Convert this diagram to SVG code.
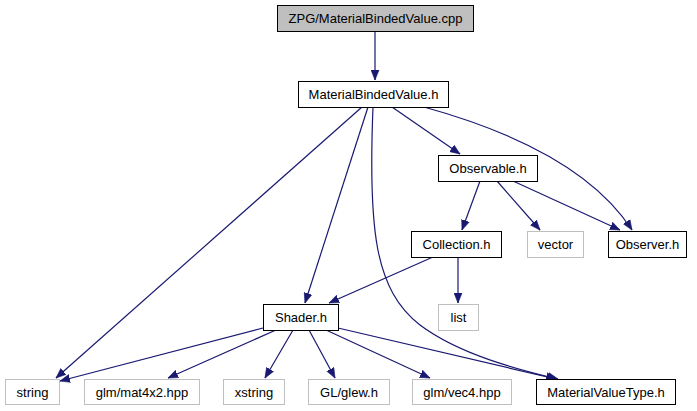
<svg xmlns="http://www.w3.org/2000/svg" width="697" height="411" viewBox="0 0 697 411">
<defs>
<style>
.n rect{fill:#fff;stroke:#000;stroke-width:1}
.g rect{fill:#fff;stroke:#bfbfbf;stroke-width:1}
.r rect{fill:#bfbfbf;stroke:#000;stroke-width:1}
text{font-family:"Liberation Sans",Arial,sans-serif;font-size:13px;fill:#000;text-anchor:middle}
#edges path{fill:none;stroke:#191970;stroke-width:1.2;marker-end:url(#ah)}
</style>
<marker id="ah" markerUnits="userSpaceOnUse" markerWidth="11" markerHeight="9" refX="10" refY="4.5" orient="auto">
<path d="M0,0.5 L10,4.5 L0,8.5 z" fill="#191970" stroke="#191970" stroke-width="0.6"/>
</marker>
</defs>
<rect width="697" height="411" fill="#fff"/>
<g id="edges">
<path d="M375,32 L375,80"/>
<path d="M362,107 L56,378"/>
<path d="M368,107 L305,303"/>
<path d="M373,107 C368,230 375,290 420,325 C460,355 520,370 558,379"/>
<path d="M392,107 L460,154"/>
<path d="M424,107 C500,128 590,165 632,230"/>
<path d="M480,181 L462,230"/>
<path d="M497,181 L540,230"/>
<path d="M513,181 L620,230"/>
<path d="M433,257 L329,303"/>
<path d="M458,257 L458,303"/>
<path d="M263,328 L60,381"/>
<path d="M276,330 L168,378"/>
<path d="M293,330 L265,378"/>
<path d="M309,330 L335,378"/>
<path d="M326,330 L430,378"/>
<path d="M338,328 L556,379"/>
</g>
<g id="cpp" class="r"><rect x="277.5" y="5.5" width="196" height="26"/><text x="375.5" y="23">ZPG/MaterialBindedValue.cpp</text></g>
<g id="mbv" class="n"><rect x="298.5" y="81.5" width="150" height="26"/><text x="373.5" y="99">MaterialBindedValue.h</text></g>
<g id="observable" class="n"><rect x="438.5" y="155.5" width="99" height="26"/><text x="488" y="173">Observable.h</text></g>
<g id="collection" class="n"><rect x="411.5" y="231.5" width="90" height="26"/><text x="456.5" y="249">Collection.h</text></g>
<g id="vector" class="g"><rect x="527.5" y="231.5" width="56" height="26"/><text x="555.5" y="249">vector</text></g>
<g id="observer" class="n"><rect x="608.5" y="231.5" width="78" height="26"/><text x="647.5" y="249">Observer.h</text></g>
<g id="shader" class="n"><rect x="263.5" y="304.5" width="75" height="26"/><text x="301" y="322">Shader.h</text></g>
<g id="list" class="g"><rect x="438.5" y="304.5" width="40" height="26"/><text x="458.5" y="322">list</text></g>
<g id="string" class="g"><rect x="5.5" y="379.5" width="54" height="25"/><text x="32.5" y="396.5">string</text></g>
<g id="mat4x2" class="g"><rect x="84.5" y="379.5" width="115" height="25"/><text x="142" y="396.5">glm/mat4x2.hpp</text></g>
<g id="xstring" class="g"><rect x="223.5" y="379.5" width="61" height="25"/><text x="254" y="396.5">xstring</text></g>
<g id="glew" class="g"><rect x="308.5" y="379.5" width="81" height="25"/><text x="349" y="396.5">GL/glew.h</text></g>
<g id="vec4" class="g"><rect x="412.5" y="379.5" width="99" height="25"/><text x="462" y="396.5">glm/vec4.hpp</text></g>
<g id="mvt" class="n"><rect x="536.5" y="379.5" width="139" height="25"/><text x="606" y="396.5">MaterialValueType.h</text></g>
</svg>
